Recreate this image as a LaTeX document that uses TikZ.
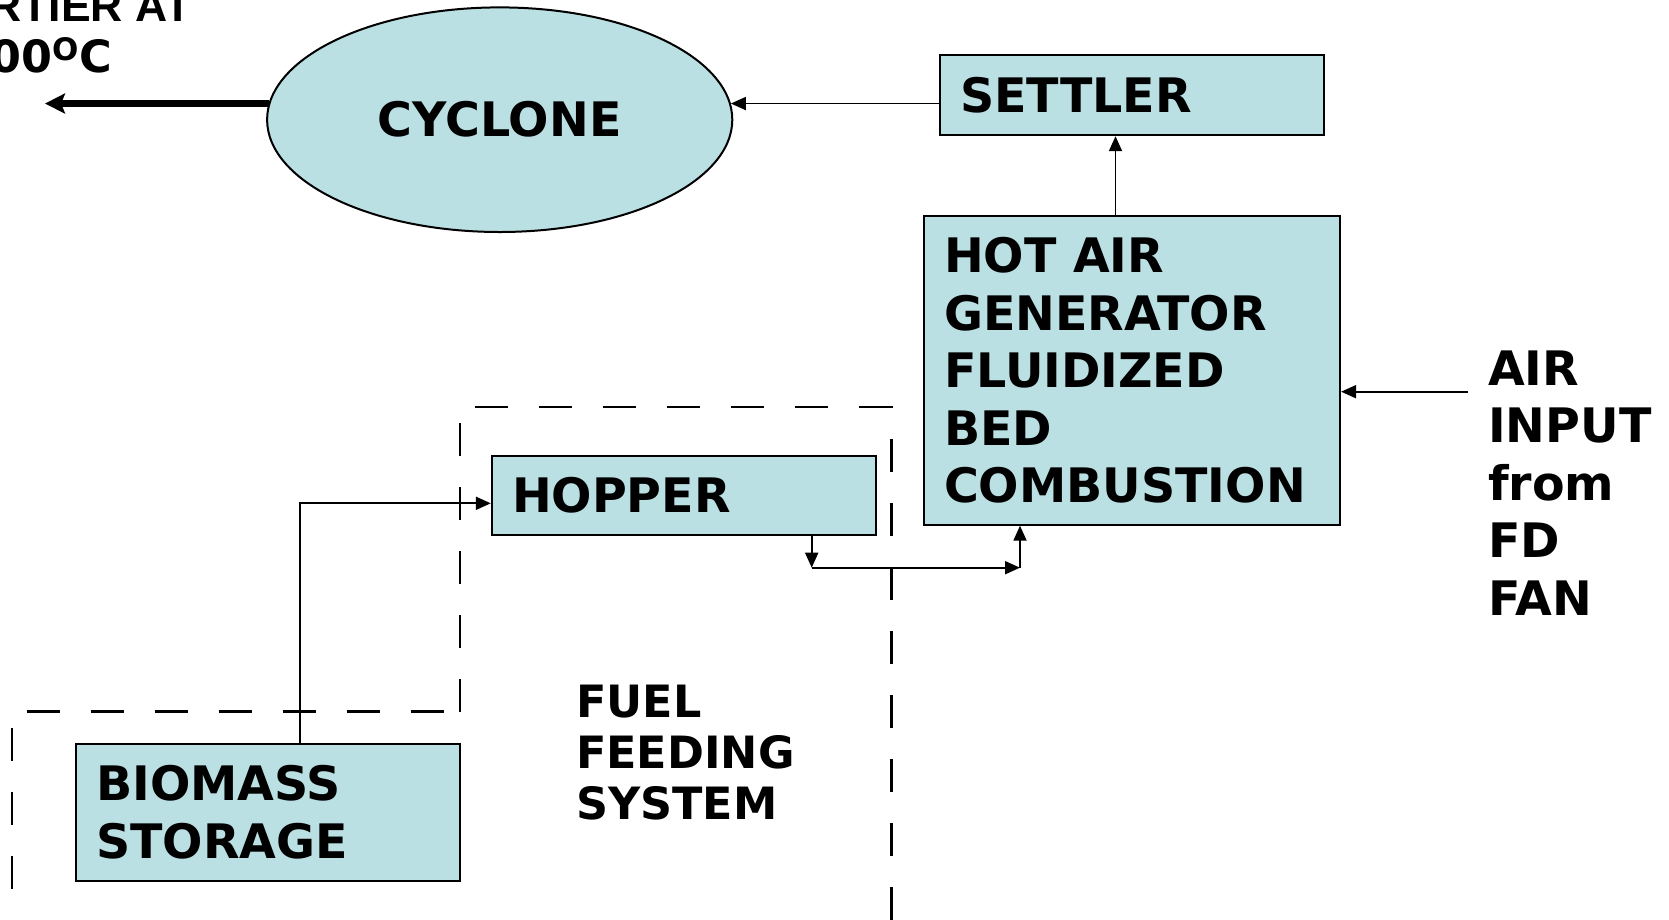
\documentclass[tikz,border=0pt]{standalone}
\usepackage{fontspec}
\setmainfont{DejaVu Sans}
\newfontfamily\arialfont{Liberation Sans}
\usetikzlibrary{arrows.meta,shapes.geometric}
\definecolor{boxfill}{RGB}{187,224,227}
\tikzset{
  box/.style={draw=black, line width=2pt, fill=boxfill, inner sep=0pt},
  lbl/.style={font=\bfseries\fontsize{47.5}{57.5}\selectfont, align=left, inner sep=0pt},
  smalllbl/.style={font=\bfseries\fontsize{44.5}{51}\selectfont, align=left, inner sep=0pt},
  arr/.style={line width=1.9pt, -{Triangle[length=15pt,width=13pt]}},
  fatarr/.style={line width=6.5pt, -{Stealth[length=20pt,width=20pt,inset=4pt]}},
  fence/.style={line width=2.5pt, dash pattern=on 33pt off 31pt},
}
\begin{document}
\begin{tikzpicture}[x=1pt,y=-1pt]
\useasboundingbox (0,0) rectangle (1669,919);
\clip (0,0) rectangle (1669,919);

% dashed system boundaries
\draw[fence] (460,711.7) -- (460,407) -- (891.7,407) -- (891.7,930);
\draw[fence] (26.7,711.7) -- (460,711.7);
\draw[fence] (12,728) -- (12,930);

% nodes
\node[box, ellipse, minimum width=465.2pt, minimum height=224.6pt,
      font=\bfseries\fontsize{47.5}{57.5}\selectfont] (cyclone) at (499.7,119.7) {\raisebox{-2.5pt}{CYCLONE}};
\node[box, minimum width=384.2pt, minimum height=79.9pt] (settler) at (1132,95.25) {};
\node[lbl, anchor=west] (settlerT) at ([xshift=21pt]settler.west) {SETTLER};
\node[box, minimum width=416.2pt, minimum height=308.6pt] (hotair) at (1132,370.4) {};
\node[lbl, anchor=west] (hotairT) at ([xshift=21pt]hotair.west)
  {HOT AIR\\GENERATOR\\FLUIDIZED\\BED\\COMBUSTION};
\node[box, minimum width=384.2pt, minimum height=79pt] (hopper) at (683.9,495.1) {};
\node[lbl, anchor=west] (hopperT) at ([xshift=21pt]hopper.west) {HOPPER};
\node[box, minimum width=384.3pt, minimum height=137pt] (biomass) at (268.15,812) {};
\node[lbl, anchor=west] (biomassT) at ([xshift=21pt]biomass.west) {BIOMASS\\STORAGE};

\node[lbl, anchor=west] (air) at (1488,483) {AIR\\INPUT\\from\\FD\\FAN};
\node[smalllbl, anchor=west] (fuel) at (576,752.5) {FUEL\\FEEDING\\SYSTEM};

\node[smalllbl, anchor=base east] (carrier) at (191.6,21.3) {\arialfont\bfseries RTIER AT};
\node[smalllbl, anchor=base east] (temp) at (112,72)
  {00\raisebox{12pt}{\fontsize{31}{31}\selectfont O}C};

% coordinates for free ends and bends
\coordinate (outl) at (45,103.5);
\coordinate (hx) at (1115.5,0);
\coordinate (airstart) at (1468,391.7);
\coordinate (bx) at (300,503.3);
\coordinate (d1) at (811.7,567.7);
\coordinate (d2) at (1020,567.7);

% connectors
\draw[fatarr] (cyclone.176) -- (outl |- cyclone.176);
\draw[arr] (settler.west |- cyclone.4) -- (cyclone.4);
\draw[arr] (hotair.north -| hx) -- (settler.south -| hx);
\draw[arr] (airstart) -- (airstart -| hotair.east);
\draw[arr] (biomass.north -| bx) -- (bx) -- (bx -| hopper.west);
\draw[arr] (hopper.south -| d1) -- (d1);
\draw[arr] (d1) -- (d2);
\draw[arr] (d2) -- (hotair.south -| d2);
\end{tikzpicture}
\end{document}
